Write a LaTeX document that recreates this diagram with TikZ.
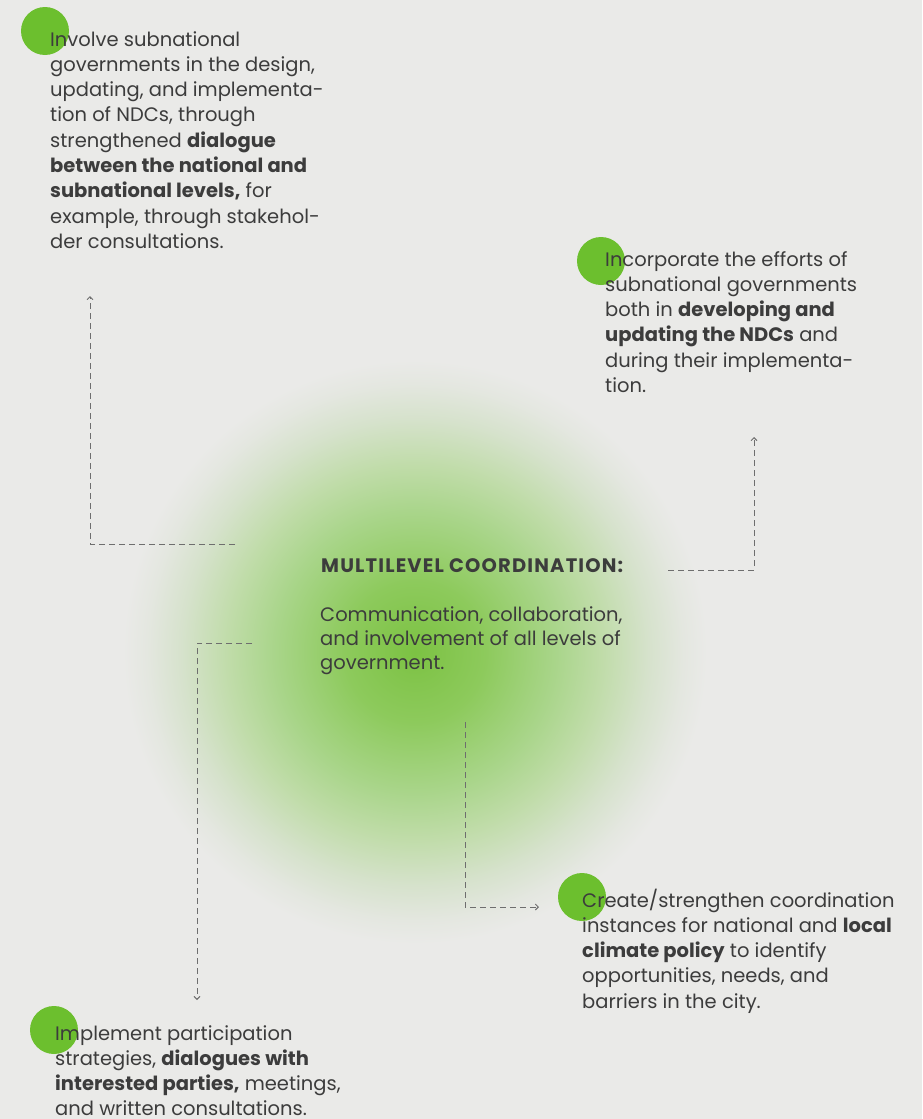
\documentclass[tikz,border=0pt]{standalone}
\usepackage{fontspec}
\setmainfont{Poppins}
\usetikzlibrary{arrows.meta}
\definecolor{bgc}{HTML}{EAEAE8}
\definecolor{dotg}{HTML}{6CBF2E}
\definecolor{txt}{HTML}{3C3C3C}
\definecolor{lnc}{HTML}{6E6E6E}
\definecolor{gca}{HTML}{7CC243}
\definecolor{gcb}{HTML}{8DCA5C}
\definecolor{gcc}{HTML}{A9D58A}
\definecolor{gcd}{HTML}{C0DCA9}
\definecolor{gce}{HTML}{D6E2CC}
\definecolor{gcf}{HTML}{E4E7E0}
\pgfdeclareradialshading{blob}{\pgfpoint{0bp}{0bp}}{color(0bp)=(gca);color(6bp)=(gcb);color(12bp)=(gcc);color(16bp)=(gcd);color(20bp)=(gce);color(23bp)=(gcf);color(25bp)=(bgc);color(50bp)=(bgc)}
\tikzset{
  dot/.style={circle,fill=dotg,minimum size=48pt,inner sep=0pt},
  body/.style={anchor=base west,inner sep=0pt,text=txt,font=\fontsize{19.5}{25.3}\selectfont},
  conn/.style={draw=lnc,line width=0.9pt,dash pattern=on 6pt off 4pt,-{Straight Barb[length=3pt,width=6pt]}}
}
\begin{document}
\begin{tikzpicture}[x=1pt,y=-1pt]
\fill[bgc] (0,0) rectangle (922,1119);
\useasboundingbox (0,0) rectangle (922,1119);
\shade[shading=blob] (415,652) circle (292);
% dots
\node[dot] (d1) at (45,31) {};
\node[dot] (d2) at (601,261) {};
\node[dot] (d3) at (582,897) {};
\node[dot] (d4) at (54,1030) {};
% texts
\node[body] (t1) at (50,46) {\vtop{\baselineskip=25.3pt
 \hbox{Involve subnational}\hbox{governments in the design,}\hbox{updating, and implementa-}\hbox{tion of NDCs, through}\hbox{strengthened \textbf{dialogue}}\hbox{\textbf{between the national and}}\hbox{\textbf{subnational levels,} for}\hbox{example, through stakehol-}\hbox{der consultations.}}};
\node[body] (t2) at (605,266) {\vtop{\baselineskip=25.3pt
 \hbox{Incorporate the efforts of}\hbox{subnational governments}\hbox{both in \textbf{developing and}}\hbox{\textbf{updating the NDCs} and}\hbox{during their implementa-}\hbox{tion.}}};
\node[body] (t3) at (582,907) {\vtop{\baselineskip=25.3pt
 \hbox{Create/strengthen coordination}\hbox{instances for national and \textbf{local}}\hbox{\textbf{climate policy} to identify}\hbox{opportunities, needs, and}\hbox{barriers in the city.}}};
\node[body] (t4) at (55,1040) {\vtop{\baselineskip=25.3pt
 \hbox{Implement participation}\hbox{strategies, \textbf{dialogues with}}\hbox{\textbf{interested parties,} meetings,}\hbox{and written consultations.}}};
\node[body] (ch) at (321,572) {\addfontfeature{LetterSpace=6}\textbf{MULTILEVEL COORDINATION:}};
\node[body] (cb) at (320,621) {\vtop{\baselineskip=24pt
 \hbox{Communication, collaboration,}\hbox{and involvement of all levels of}\hbox{government.}}};
% connectors
\coordinate (s1) at (235,544); \coordinate (e1) at (90,296);
\coordinate (s2) at (668,570); \coordinate (e2) at (754,437);
\coordinate (s3) at (252,643); \coordinate (e3) at (197,1000);
\coordinate (s4) at (465,722); \coordinate (e4) at (539,907);
\draw[conn] (s1) -| (e1);
\draw[conn] (s2) -| (e2);
\draw[conn] (s3) -| (e3);
\draw[conn] (s4) |- (e4);
\end{tikzpicture}
\end{document}
